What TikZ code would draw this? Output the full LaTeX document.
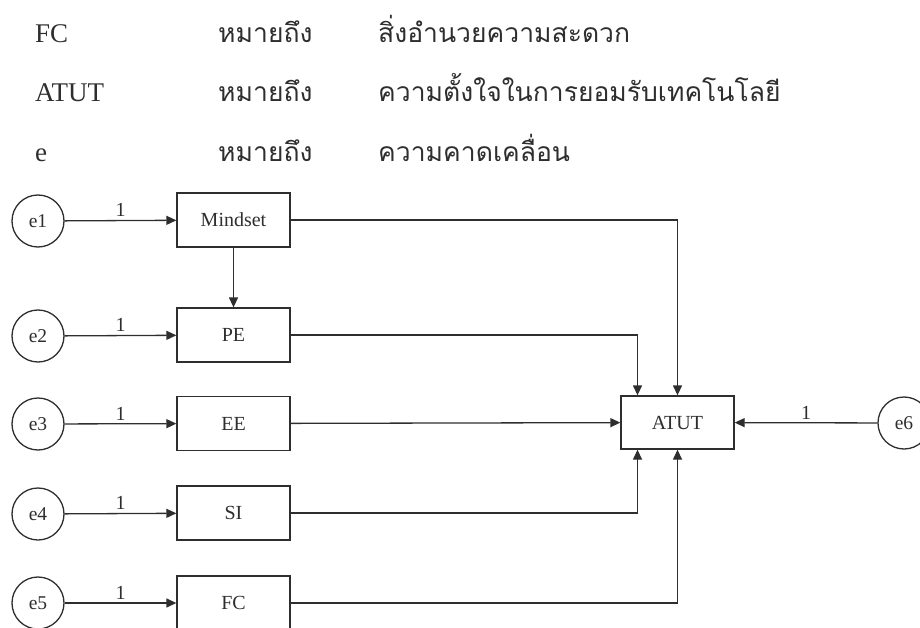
\documentclass[tikz,border=0pt]{standalone}
\usepackage{fontspec}
\setmainfont{Liberation Serif}
\newfontfamily\thaifont[Script=Thai]{Loma}
\usetikzlibrary{arrows.meta,calc}
\definecolor{ink}{HTML}{2E2E2E}
\begin{document}
\begin{tikzpicture}[x=1pt,y=-1pt,
  every node/.style={text=ink},
  hdr/.style={anchor=base west,inner sep=0pt,font=\fontsize{27}{30}\selectfont},
  thai/.style={anchor=base west,inner sep=0pt,font=\thaifont\fontsize{26.5}{30}\selectfont},
  varbox/.style={draw=ink,line width=1.3pt,rectangle,minimum width=113pt,minimum height=54pt,inner sep=0pt,font=\fontsize{20}{22}\selectfont},
  errc/.style={draw=ink,line width=1.3pt,circle,minimum size=52pt,inner sep=0pt,font=\fontsize{19.5}{22}\selectfont},
  arr/.style={draw=ink,line width=1.3pt,-{Triangle[length=10pt,width=9pt]}},
  lbl/.style={midway,above,inner sep=3pt,font=\fontsize{20}{22}\selectfont}
]
\useasboundingbox (0,0) rectangle (920,628);
\clip (0,0) rectangle (920,628);
% header legend
\node[hdr] (k1) at (35,43) {FC};
\node[hdr] (k2) at (35,102) {ATUT};
\node[hdr] (k3) at (35,162) {e};
\node[thai] (m1) at (218,43) {หมายถึง};
\node[thai] (m2) at (218,102) {หมายถึง};
\node[thai] (m3) at (218,162) {หมายถึง};
\node[thai] (d1) at (378,43) {สิ่งอำนวยความสะดวก};
\node[thai] (d2) at (378,102) {ความตั้งใจในการยอมรับเทคโนโลยี};
\node[thai] (d3) at (378,162) {ความคาดเคลื่อน};
% boxes
\node[varbox] (mind) at (233.5,220) {Mindset};
\node[varbox] (pe) at (233.5,335) {PE};
\node[varbox] (ee) at (233.5,423.5) {EE};
\node[varbox] (si) at (233.5,513) {SI};
\node[varbox] (fc) at (233.5,603) {FC};
\node[varbox,minimum height=53pt] (atut) at (677.5,422.5) {ATUT};
% error circles
\node[errc] (e1) at (38,221) {e1};
\node[errc] (e2) at (38,336) {e2};
\node[errc] (e3) at (38,424) {e3};
\node[errc] (e4) at (38,514) {e4};
\node[errc] (e5) at (38,603) {e5};
\node[errc] (e6) at (904,423) {e6};
% error paths
\draw[arr] (e1) -- (mind) node[lbl] (l1) {1};
\draw[arr] (e2) -- (pe) node[lbl] (l2) {1};
\draw[arr] (e3) -- (ee) node[lbl] (l3) {1};
\draw[arr] (e4) -- (si) node[lbl] (l4) {1};
\draw[arr] (e5) -- (fc) node[lbl] (l5) {1};
\draw[arr] (e6) -- (atut) node[lbl] (l6) {1};
% structural paths
\draw[arr] (mind) -- (pe);
\coordinate (atn) at ([xshift=-40pt]atut.north);
\coordinate (ats) at ([xshift=-40pt]atut.south);
\draw[arr] (mind.east) -| (atut.north);
\draw[arr] (pe.east) -| (atn);
\draw[arr] (ee) -- (atut);
\draw[arr] (si.east) -| (ats);
\draw[arr] (fc.east) -| (atut.south);
\end{tikzpicture}
\end{document}
